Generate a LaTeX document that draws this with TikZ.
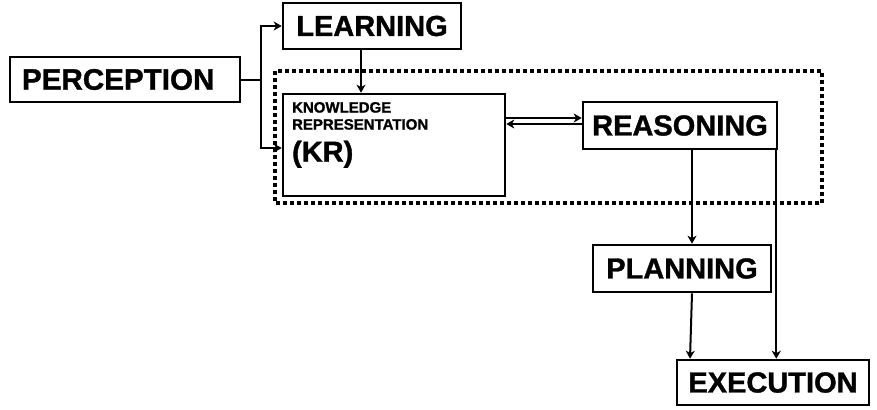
\documentclass[tikz,border=0pt]{standalone}
\usepackage{fontspec}
\setmainfont{Liberation Sans}[BoldFeatures={FakeBold=1.2}]
\usetikzlibrary{arrows.meta}
\tikzset{
  blockbox/.style={draw,line width=1.3pt,inner sep=0pt,font=\fontsize{14.5}{17}\selectfont\bfseries},
  link/.style={line width=1pt,-{Stealth[length=4pt,width=4.5pt,inset=1.2pt]}},
}

\begin{document}
\begin{tikzpicture}[x=0.5pt,y=-0.5pt]
\useasboundingbox (0,0) rectangle (877,409);
% the KR / reasoning core
\draw[line width=2pt,dash pattern=on 2pt off 1.5pt] (275,71) rectangle (822,203);
\node[blockbox,minimum width=115pt,minimum height=22.5pt,text width=103pt,align=left,font=\fontsize{14.8}{17}\selectfont\bfseries] (perception) at (125,79.5) {PERCEPTION};
\node[blockbox,minimum width=89pt,minimum height=23pt] (learning) at (372,26) {LEARNING};
\node[draw,line width=1.3pt,minimum width=111pt,minimum height=51pt] (kr) at (394,145) {};
\node[anchor=north west,inner sep=0pt,align=left,font=\fontsize{7.5}{8.5}\selectfont\bfseries] (krtext) at ([xshift=5pt,yshift=-4.5pt]kr.north west)
  {KNOWLEDGE\\REPRESENTATION\\[4.5pt]{\fontsize{14.5}{16.5}\selectfont (KR)}};
\node[blockbox,minimum width=97pt,minimum height=23.5pt] (reasoning) at (680,125.5) {REASONING};
\node[blockbox,minimum width=89pt,minimum height=23.5pt] (planning) at (682,268.5) {PLANNING};
\node[blockbox,minimum width=96pt,minimum height=22.5pt] (execution) at (773,382.5) {EXECUTION};
% connectors
\coordinate (fork) at ([xshift=10pt]perception.east);
\draw[line width=1pt] (perception.east) -- (fork);
\draw[link] (fork) |- (learning.west);
\draw[link] (fork) |- ([yshift=-1.5pt]kr.west);
\draw[link] ([xshift=-5.5pt]learning.south) -- ([xshift=-5.5pt]learning.south |- kr.north);
\draw[link] ([yshift=3.75pt]reasoning.west -| kr.east) -- ([yshift=3.75pt]reasoning.west);
\draw[link] ([yshift=0.75pt]reasoning.west) -- ([yshift=0.75pt]reasoning.west -| kr.east);
\draw[link] ([xshift=6pt]reasoning.south) -- ([xshift=6pt]reasoning.south |- planning.north);
\draw[link] ([xshift=-1pt]reasoning.south east) -- ([xshift=-1pt]reasoning.south east |- execution.north);
\draw[link] ([xshift=5pt]planning.south) -- ([xshift=4pt]planning.south |- execution.north);
\end{tikzpicture}
\end{document}
